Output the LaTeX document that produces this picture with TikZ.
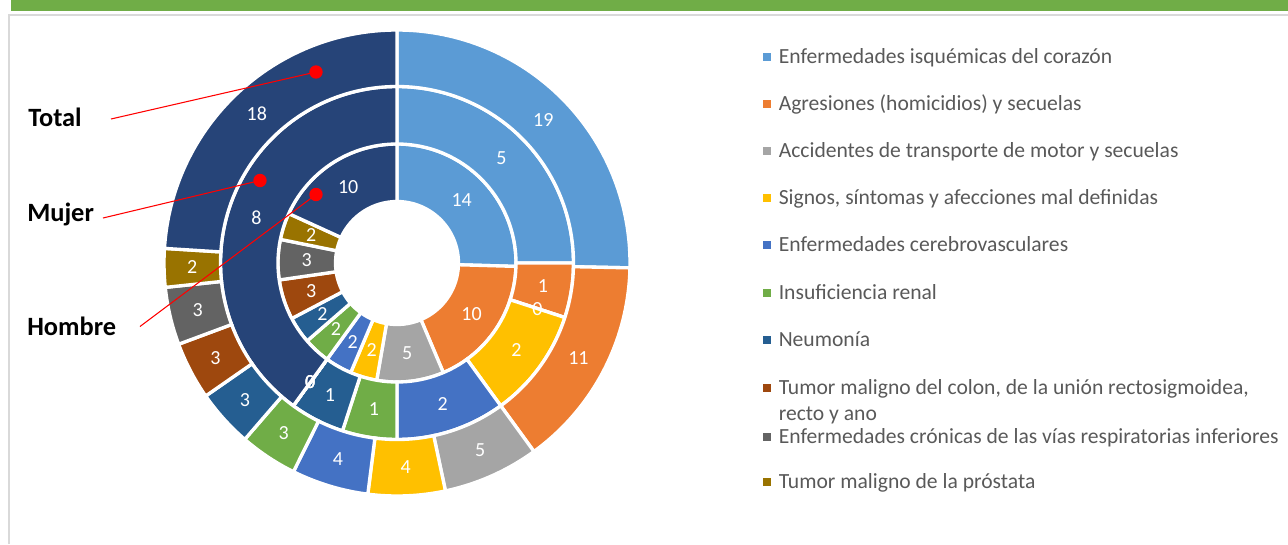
\documentclass[tikz,border=0pt]{standalone}
\usepackage{fontspec}
\setmainfont{Carlito}
\usetikzlibrary{calc}
\definecolor{cA}{HTML}{5B9BD5}
\definecolor{cB}{HTML}{ED7D31}
\definecolor{cC}{HTML}{A5A5A5}
\definecolor{cD}{HTML}{FFC000}
\definecolor{cE}{HTML}{4472C4}
\definecolor{cF}{HTML}{70AD47}
\definecolor{cG}{HTML}{255E91}
\definecolor{cH}{HTML}{9E480E}
\definecolor{cI}{HTML}{636363}
\definecolor{cJ}{HTML}{997300}
\definecolor{cK}{HTML}{264478}
\definecolor{legtext}{HTML}{595959}
\definecolor{barGreen}{HTML}{70AD47}
\definecolor{frameGray}{HTML}{D9D9D9}
\newcommand{\donutring}[5]{%
  \foreach \v/\col [remember=\b as \a (initially 0), evaluate=\v as \b using \a+\v] in {#4} {%
    \pgfmathsetmacro{\tA}{90-\a/#3*360}%
    \pgfmathsetmacro{\tB}{90-\b/#3*360}%
    \fill[\col, draw=white, line width=2.5pt]
      ($(c)+(\tA:#2)$) arc[start angle=\tA, end angle=\tB, radius=#2]
      -- ($(c)+(\tB:#1)$) arc[start angle=\tB, end angle=\tA, radius=#1] -- cycle;
  }%
  \foreach \v/\col [remember=\b as \a (initially 0), evaluate=\v as \b using \a+\v, count=\i] in {#4} {%
    \pgfmathsetmacro{\tM}{90-(\a+\b)/2/#3*360}%
    \pgfmathtruncatemacro{\vi}{\v}%
    \node[numlbl] (#5-\i) at ($(c)+(\tM:{(#1+#2)/2})$) {\vi};
  }%
}
\tikzset{
  numlbl/.style={text=white, font=\fontsize{15}{17}\selectfont, inner sep=0pt},
  legtxt/.style={anchor=base west, text=legtext, font=\fontsize{16.2}{19}\selectfont, inner sep=0pt},
  legmark/.style={inner sep=0pt, minimum size=6pt},
  serieslbl/.style={anchor=base west, font=\bfseries\fontsize{19.8}{22}\selectfont, inner sep=0pt},
  reddot/.style={circle, fill=red, inner sep=0pt, minimum size=10pt},
  redline/.style={red, line width=0.8pt}
}
\begin{document}
\begin{tikzpicture}[x=0.75pt, y=0.75pt]
\useasboundingbox (0,0) rectangle (1288,-544);
\fill[barGreen] (11,0) rectangle (1288,-11);
\draw[frameGray, line width=1.8pt] (9,-544) -- (9,-15) -- (1288,-15);
\coordinate (c) at (397,-263);
% inner ring: Hombre
\donutring{61.5}{119}{55}{14/cA,10/cB,5/cC,2/cD,2/cE,2/cF,2/cG,3/cH,3/cI,2/cJ,10/cK}{h}
% middle ring: Mujer
\donutring{119}{176.5}{20}{5/cA,1/cB,0/cC,2/cD,2/cE,1/cF,1/cG,0/cH,0/cI,0/cJ,8/cK}{m}
% outer ring: Total
\donutring{176.5}{233}{75}{19/cA,11/cB,5/cC,4/cD,4/cE,3/cF,3/cG,3/cH,3/cI,2/cJ,18/cK}{t}
% series labels
\node[serieslbl] (lblT) at (28,-126) {Total};
\node[serieslbl] (lblM) at (27,-221.5) {Mujer};
\node[serieslbl] (lblH) at (27,-335.5) {Hombre};
\coordinate (endT) at (111,-119);
\coordinate (endM) at (103,-218);
\coordinate (endH) at (140,-326.5);
\node[reddot] (dotT) at (316,-72) {};
\node[reddot] (dotM) at (260,-180.5) {};
\node[reddot] (dotH) at (316,-194.5) {};
\draw[redline] (endT) -- (dotT.center);
\draw[redline] (endM) -- (dotM.center);
\draw[redline] (endH) -- (dotH.center);
% legend
\node[legmark, fill=cA] (mk1) at (766.5,-56.5) {};
\node[legtxt] (lg1) at (778.5,-63) {Enfermedades isquémicas del corazón};
\node[legmark, fill=cB] (mk2) at (766.5,-103.5) {};
\node[legtxt] (lg2) at (778.5,-110) {Agresiones (homicidios) y secuelas};
\node[legmark, fill=cC] (mk3) at (766.5,-150.5) {};
\node[legtxt] (lg3) at (778.5,-157) {Accidentes de transporte de motor y secuelas};
\node[legmark, fill=cD] (mk4) at (766.5,-198) {};
\node[legtxt] (lg4) at (778.5,-204.5) {Signos, síntomas y afecciones mal definidas};
\node[legmark, fill=cE] (mk5) at (766.5,-245) {};
\node[legtxt] (lg5) at (778.5,-251.5) {Enfermedades cerebrovasculares};
\node[legmark, fill=cF] (mk6) at (766.5,-293) {};
\node[legtxt] (lg6) at (778.5,-299.5) {Insuficiencia renal};
\node[legmark, fill=cG] (mk7) at (766.5,-340) {};
\node[legtxt] (lg7) at (778.5,-346.5) {Neumonía};
\node[legmark, fill=cH] (mk8) at (766.5,-388) {};
\node[legtxt] (lg8) at (778.5,-394.5) {Tumor maligno del colon, de la unión rectosigmoidea,};
\node[legtxt] (lg8b) at (778.5,-420.5) {recto y ano};
\node[legmark, fill=cI] (mk9) at (766.5,-437) {};
\node[legtxt] (lg9) at (778.5,-443.5) {Enfermedades crónicas de las vías respiratorias inferiores};
\node[legmark, fill=cJ] (mk10) at (766.5,-482) {};
\node[legtxt] (lg10) at (778.5,-488.5) {Tumor maligno de la próstata};
\end{tikzpicture}
\end{document}
